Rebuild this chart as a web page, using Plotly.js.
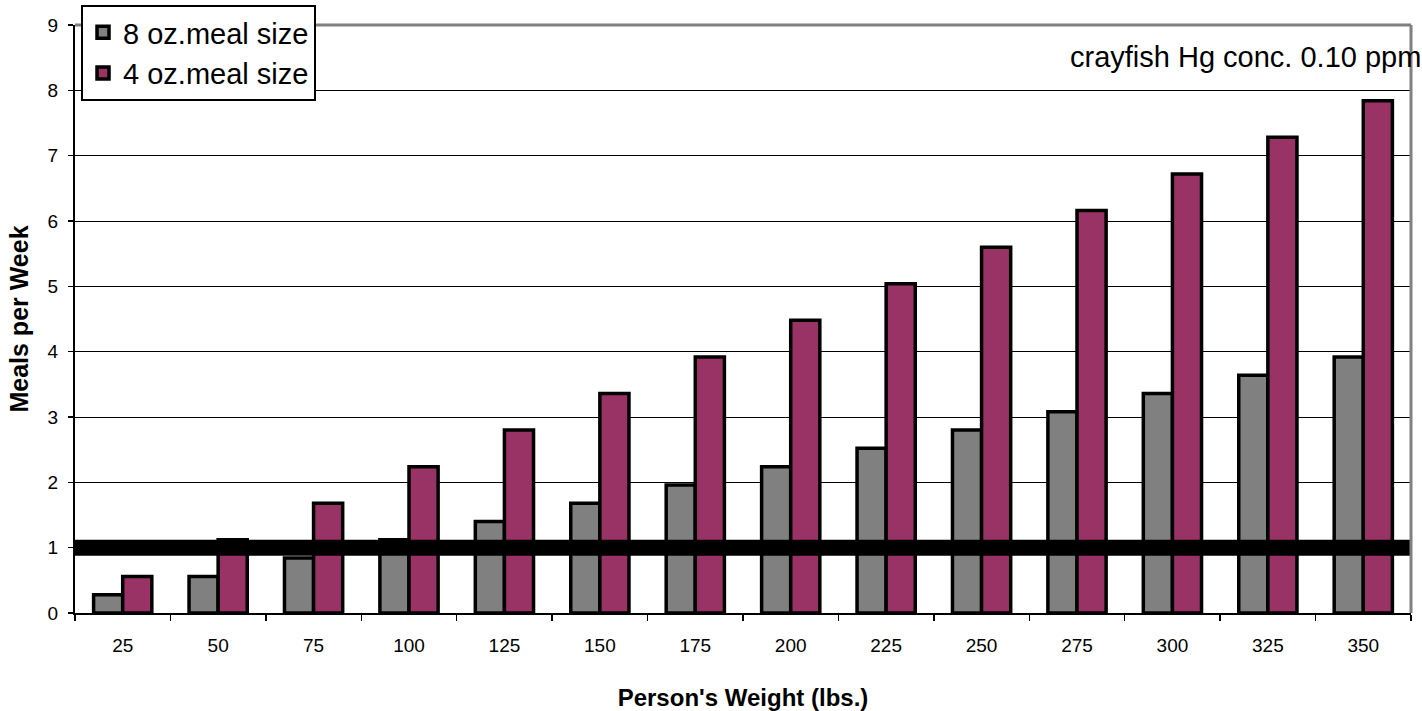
<!DOCTYPE html>
<html>
<head>
<meta charset="utf-8">
<script src="https://cdn.plot.ly/plotly-3.0.1.min.js"></script>
<style>html,body{margin:0;padding:0;background:#fff;}#chart{width:1422px;height:711px;}</style>
</head>
<body>
<div id="chart"></div>
<script>
const weights = ["25","50","75","100","125","150","175","200","225","250","275","300","325","350"];
const meals8oz = [0.28,0.56,0.84,1.12,1.40,1.68,1.96,2.24,2.52,2.80,3.08,3.36,3.64,3.92];
const meals4oz = [0.56,1.12,1.68,2.24,2.80,3.36,3.92,4.48,5.04,5.60,6.16,6.72,7.28,7.84];
const seriesNames = ["8 oz.meal size","4 oz.meal size"];
const referenceLevel = 1;
const noteText = "crayfish Hg conc. 0.10 ppm";
const yTicks = [0,1,2,3,4,5,6,7,8,9];

const font = "Liberation Sans, Arial, sans-serif";

const traces = [
  {type:"bar", name:seriesNames[0], x:weights, y:meals8oz,
   marker:{color:"#808080", line:{color:"#000", width:3.5}}},
  {type:"bar", name:seriesNames[1], x:weights, y:meals4oz,
   marker:{color:"#993366", line:{color:"#000", width:3.5}}}
];

const layout = {
  width:1422, height:711,
  margin:{l:75, r:11, t:5, b:98},
  paper_bgcolor:"#fff", plot_bgcolor:"#fff",
  font:{family:font, color:"#000"},
  barmode:"group", bargap:0.39, bargroupgap:0,
  showlegend:true,
  legend:{x:0.0045, y:1, xanchor:"left", yanchor:"top",
          bgcolor:"#fff", bordercolor:"#000", borderwidth:2,
          font:{size:29, family:font}, tracegroupgap:0, itemwidth:30},
  xaxis:{type:"category", tickson:"boundaries", ticks:"outside", ticklen:6,
         tickcolor:"#000", tickwidth:1.5, showline:true, linecolor:"#000", linewidth:2,
         showgrid:false, tickfont:{size:19}, ticklabelstandoff:14,
         title:{text:"<b>Person's Weight (lbs.)</b>", font:{size:24}, standoff:35},
         automargin:false, fixedrange:true},
  yaxis:{range:[0,9], domain:[0, 0.9671], tickvals:yTicks, ticks:"outside", ticklen:5, tickcolor:"#000",
         tickwidth:1.5, showline:true, linecolor:"#000", linewidth:2,
         showgrid:true, gridcolor:"#000", gridwidth:1, zeroline:false,
         tickfont:{size:19}, ticklabelstandoff:6,
         title:{text:"<b>Meals per Week</b>", font:{size:25}, standoff:12},
         automargin:false, fixedrange:true},
  shapes:[
    {type:"line", xref:"x domain", yref:"y", x0:0, x1:1, y0:referenceLevel, y1:referenceLevel,
     line:{color:"#000", width:16}, layer:"above"},
    {type:"line", xref:"x domain", yref:"y domain", x0:0, x1:1, y0:1, y1:1,
     line:{color:"#808080", width:3}, layer:"above"},
    {type:"line", xref:"x domain", yref:"y domain", x0:1, x1:1, y0:0, y1:1,
     line:{color:"#808080", width:3}, layer:"above"}
  ],
  annotations:[
    {text:noteText, xref:"x domain", yref:"y domain", x:0.743, y:0.9456,
     xanchor:"left", yanchor:"middle", showarrow:false, font:{size:29, family:font}}
  ]
};

Plotly.newPlot("chart", traces, layout, {displayModeBar:false, staticPlot:true});
</script>
</body>
</html>
